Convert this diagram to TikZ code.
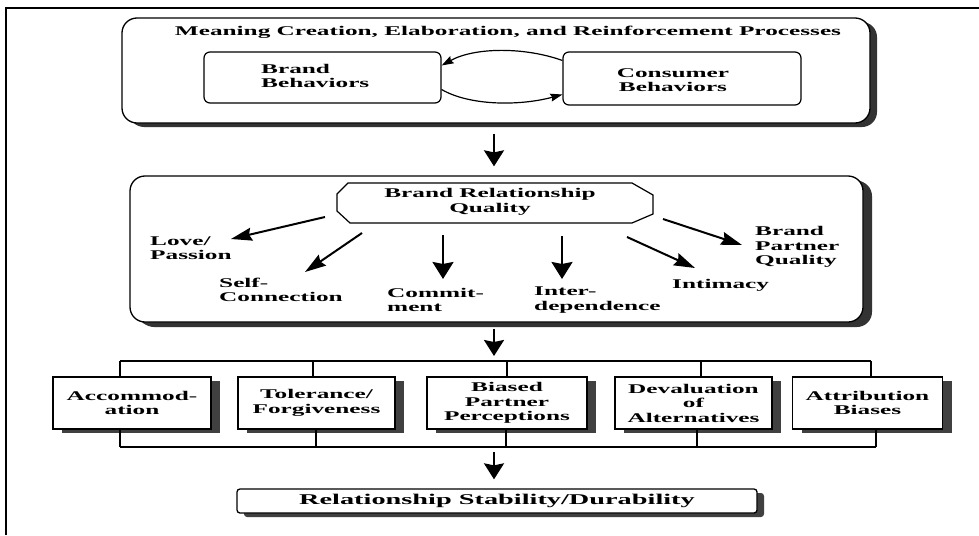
\documentclass[tikz,border=0pt]{standalone}
\usepackage{fontspec}
\setmainfont{Liberation Serif}[FakeStretch=1.9]
\usetikzlibrary{arrows.meta,shadows}
\tikzset{
  txt/.style={font=\fontsize{13.3}{14.5}\selectfont\bfseries, inner sep=0pt, align=left},
  ctxt/.style={txt, align=center},
  frameline/.style={line width=1.6pt},
  outerbox/.style={draw, line width=1.3pt, rounded corners=15pt, fill=white,
    drop shadow={shadow xshift=7pt, shadow yshift=-4pt, fill=black!80, opacity=1}},
  innerbox/.style={draw, line width=1.2pt, rounded corners=6pt, fill=white},
  sbox/.style={draw, line width=1.3pt, fill=white, minimum height=52pt,
    font=\fontsize{13.3}{14.5}\selectfont\bfseries, align=center, inner sep=0pt,
    drop shadow={shadow xshift=9pt, shadow yshift=-4pt, fill=black!75, opacity=1}},
  fbox/.style={draw, line width=1.3pt, fill=white, rounded corners=3pt,
    font=\fontsize{14.9}{16}\selectfont\bfseries, inner sep=0pt,
    drop shadow={shadow xshift=7pt, shadow yshift=-4pt, fill=black!75, opacity=1}},
  bracket/.style={line width=1.3pt},
  bigarr/.style={line width=2.2pt, -{Stealth[length=16pt,width=20pt,inset=2pt]}},
  vtarr/.style={line width=2.2pt, -{Stealth[length=17pt,width=21pt,inset=2pt]}},
  dgarr/.style={line width=2pt, -{Stealth[length=21pt,width=13pt,inset=2.5pt]}},
  arcarr/.style={line width=1.2pt, -{Stealth[length=12pt,width=8pt,inset=1.5pt]}},
}
\begin{document}
\begin{tikzpicture}[x=1pt,y=-1pt]
\useasboundingbox (0,0) rectangle (979,535);
\draw[frameline] (6,535) -- (6,8) -- (979,8);

% ---------- top block ----------
\node[outerbox, minimum width=748pt, minimum height=105pt] (proc) at (496,70.5) {};
\node[txt] (title) at (508,32) {Meaning Creation, Elaboration, and Reinforcement Processes};
\node[innerbox, minimum width=237pt, minimum height=51pt] (bb) at (322.5,77.5) {};
\node[txt, anchor=west] (bbt) at (261,76) {Brand\\Behaviors};
\node[innerbox, minimum width=238pt, minimum height=53pt] (cons) at (682,78.5) {};
\node[ctxt] (const) at (673,80) {Consumer\\Behaviors};
\draw[arcarr] ([yshift=18pt]cons.west) .. controls (525,47) and (475,47) .. ([yshift=12pt]bb.east);
\draw[arcarr] ([yshift=-12pt]bb.east) .. controls (470,106) and (520,106) .. ([yshift=-16pt]cons.west);

\coordinate (ax) at (494,0);

% ---------- middle block ----------
\node[outerbox, minimum width=733pt, minimum height=146pt,
  drop shadow={shadow xshift=9pt, shadow yshift=-5pt, fill=black!80, opacity=1}] (rq) at (496.5,249) {};
\draw[line width=1.2pt, fill=white] (348,183) -- (632,183) -- (653,195) -- (653,214) -- (632,223)
  -- (350,223) -- (337,211) -- (337,194) -- cycle;
\node[ctxt] (brq) at (490,202) {Brand Relationship\\Quality};

\node[txt, anchor=west] (love) at (150,248) {Love/\\Passion};
\node[txt, anchor=west] (self) at (219,290) {Self-\\Connection};
\node[txt, anchor=west] (comm) at (387,300) {Commit-\\ment};
\node[txt, anchor=west] (inter) at (534,300) {Inter-\\dependence};
\node[txt, anchor=west] (intim) at (672,285) {Intimacy};
\node[txt, anchor=west] (bpq) at (755,247) {Brand\\Partner\\Quality};

\coordinate (s1) at (325,217); \coordinate (e1) at (231,239);
\coordinate (s2) at (362,233); \coordinate (e2) at (305,272);
\coordinate (s3) at (443,235); \coordinate (e3) at (443,279);
\coordinate (s4) at (562,236); \coordinate (e4) at (562,279);
\coordinate (s5) at (627,237); \coordinate (e5) at (695,268);
\coordinate (s6) at (663,219); \coordinate (e6) at (742,245);
\draw[dgarr] (s1) -- (e1);
\draw[dgarr] (s2) -- (e2);
\draw[vtarr] (s3) -- (e3);
\draw[vtarr] (s4) -- (e4);
\draw[dgarr] (s5) -- (e5);
\draw[dgarr] (s6) -- (e6);

% ---------- outcome boxes ----------
\coordinate (t1) at (120,361); \coordinate (t2) at (313,361); \coordinate (t3) at (507,361);
\coordinate (t4) at (701,361); \coordinate (t5) at (871,361);
\coordinate (u1) at (120,447); \coordinate (u2) at (316,447); \coordinate (u3) at (506,447);
\coordinate (u4) at (697,447); \coordinate (u5) at (876,447);

\node[sbox, minimum width=158pt] (b1) at (132,403) {Accommod-\\ation};
\node[sbox, minimum width=157pt] (b2) at (316.5,403) {Tolerance/\\Forgiveness};
\node[sbox, minimum width=160pt] (b3) at (507,403) {Biased\\Partner\\Perceptions};
\node[sbox, minimum width=157pt] (b4) at (693.5,403) {Devaluation\\of\\Alternatives};
\node[sbox, minimum width=150pt] (b5) at (867.5,403) {Attribution\\Biases};

\draw[bracket] (t1) -- (t5);
\draw[bracket] (u1) -- (u5);
\foreach \i in {1,...,5}{
  \draw[bracket] (t\i) -- (t\i |- b\i.north);
  \draw[bracket] (u\i |- b\i.south) -- (u\i);
}

% ---------- final box ----------
\node[fbox, minimum width=520pt, minimum height=24pt] (rs) at (497,501) {Relationship Stability/Durability};

% ---------- main arrows ----------
\draw[bigarr, shorten <=10pt, shorten >=9pt] (proc.south -| ax) -- (rq.north -| ax);
\draw[bigarr, shorten <=6pt, shorten >=5pt] (rq.south -| ax) -- (t1 -| ax);
\draw[bigarr, shorten <=5pt, shorten >=9pt] (u1 -| ax) -- (rs.north -| ax);
\end{tikzpicture}
\end{document}
